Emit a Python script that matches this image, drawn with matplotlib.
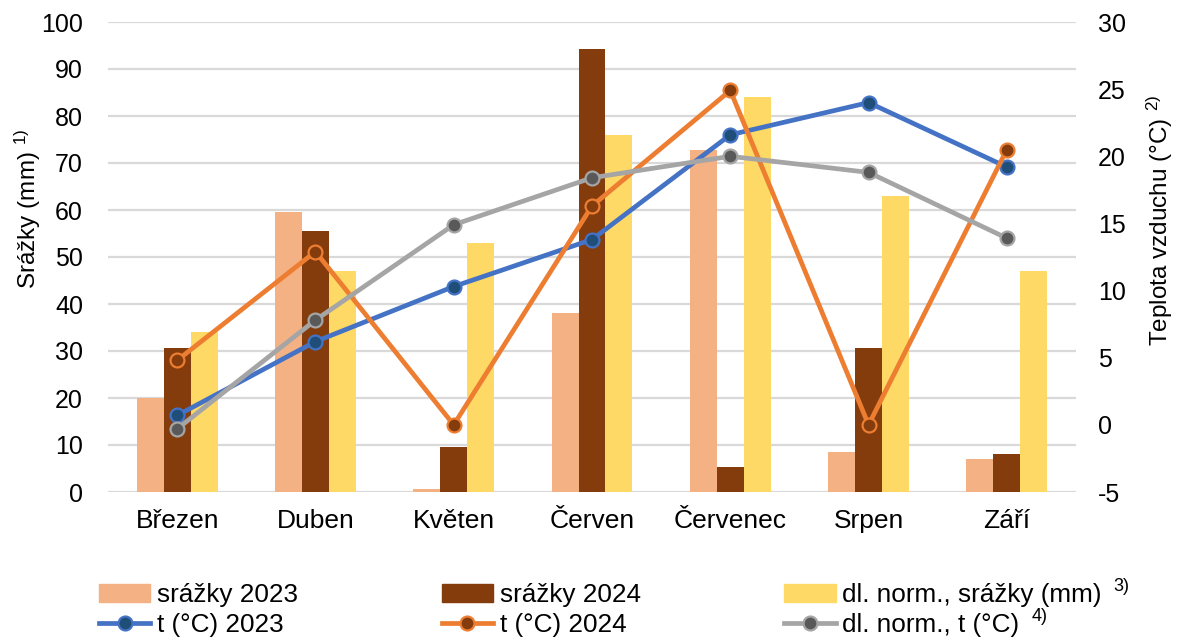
import matplotlib
matplotlib.use("Agg")
import matplotlib.pyplot as plt
import numpy as np
from matplotlib.patches import Patch
from matplotlib.lines import Line2D

plt.rcParams['font.family'] = ['Liberation Sans', 'DejaVu Sans']
plt.rcParams['mathtext.fontset'] = 'custom'
plt.rcParams['mathtext.rm'] = 'Liberation Sans'
plt.rcParams['mathtext.it'] = 'Liberation Sans'
plt.rcParams['axes.unicode_minus'] = False

months = ["Březen", "Duben", "Květen", "Červen", "Červenec", "Srpen", "Září"]
srazky_2023 = [19.9, 59.5, 0.6, 38.0, 72.8, 8.6, 7.1]
srazky_2024 = [30.7, 55.5, 9.6, 94.3, 5.4, 30.6, 8.1]
srazky_norm = [34.0, 47.0, 52.9, 76.0, 84.0, 63.0, 47.0]
t_2023 = [0.7, 6.2, 10.3, 13.8, 21.6, 24.0, 19.2]
t_2024 = [4.8, 12.9, 0.0, 16.3, 24.9, 0.0, 20.5]
t_norm = [-0.3, 7.8, 14.9, 18.4, 20.0, 18.8, 13.9]

left_ticks = list(range(0, 101, 10))
right_ticks = list(range(-5, 31, 5))

c23 = '#f4b183'
c24 = '#843c0c'
cn = '#ffd966'
lc23 = '#4472c4'
lc24 = '#ed7d31'
lcn = '#a5a5a5'

fs_y = 18
fs_x = 19
fs_lab = 17.5
fs_leg = 18.8
fs_sup = 13

W, H = 1177, 638
fig = plt.figure(figsize=(W/100, H/100), dpi=100)
ax = fig.add_axes([108/W, 1-492/H, (1076-108)/W, (492-22)/H])
ax2 = ax.twinx()

x = np.arange(len(months))
w = 0.195
ax.bar(x - w, srazky_2023, w, color=c23, zorder=2)
ax.bar(x, srazky_2024, w, color=c24, zorder=2)
ax.bar(x + w, srazky_norm, w, color=cn, zorder=2)

ax.set_ylim(0, 100)
ax.set_yticks(left_ticks)
ax.set_xlim(-0.5, len(months) - 0.5)
ax.set_xticks(x)
ax.set_xticklabels(months, fontsize=fs_x)
ax.yaxis.grid(True, color='#d9d9d9', linewidth=1.6, zorder=0)
ax.set_axisbelow(True)
ax.tick_params(axis='both', length=0)
ax.tick_params(axis='y', labelsize=fs_y, pad=18)
ax.tick_params(axis='x', labelsize=fs_x, pad=12)
for s in ax.spines.values():
    s.set_visible(False)
for s in ax2.spines.values():
    s.set_visible(False)

lw = 3.4
ms = 10
mew = 1.6
ax2.plot(x, t_2023, color=lc23, lw=lw, marker='o', ms=ms, mfc='#1f4e79', mec=lc23, mew=mew, zorder=3)
ax2.plot(x, t_2024, color=lc24, lw=lw, marker='o', ms=ms, mfc=c24, mec=lc24, mew=mew, zorder=3)
ax2.plot(x, t_norm, color=lcn, lw=lw, marker='o', ms=ms, mfc='#595959', mec=lcn, mew=mew, zorder=3)
ax2.set_ylim(-5, 30)
ax2.set_yticks(right_ticks)
ax2.tick_params(axis='y', length=0, labelsize=fs_y, pad=16)

fig.text(28/W, 1-209/H, r"Srážky (mm) $^{\mathrm{1)}}$", fontsize=fs_lab,
         rotation=90, ha='center', va='center')
fig.text(1160/W, 1-220/H, r"Teplota vzduchu (°C) $^{\mathrm{2)}}$", fontsize=fs_lab,
         rotation=90, ha='center', va='center')

handles = [
    Patch(color=c23),
    Line2D([], [], color=lc23, lw=lw, marker='o', ms=ms, mfc='#1f4e79', mec=lc23, mew=mew),
    Patch(color=c24),
    Line2D([], [], color=lc24, lw=lw, marker='o', ms=ms, mfc=c24, mec=lc24, mew=mew),
    Patch(color=cn),
    Line2D([], [], color=lcn, lw=lw, marker='o', ms=ms, mfc='#595959', mec=lcn, mew=mew),
]
labels = ["srážky 2023", "t (°C) 2023", "srážky 2024", "t (°C) 2024",
          "dl. norm., srážky (mm)", "dl. norm., t (°C)"]
sups = {4: "3)", 5: "4)"}
leg = fig.legend(handles, labels, ncol=3, loc='upper left',
                 bbox_to_anchor=(99/W, 1-583/H), frameon=False, fontsize=fs_leg,
                 handlelength=1.97, handleheight=0.65, handletextpad=0.25,
                 columnspacing=5.5, labelspacing=0.22, borderaxespad=0.0, borderpad=0.0)

fig.canvas.draw()
renderer = fig.canvas.get_renderer()
texts = leg.get_texts()
for i, s in sups.items():
    bb = texts[i].get_window_extent(renderer)
    fig.text((bb.x1 + 12) / W, (bb.y1 + 5) / H, s, fontsize=fs_sup, ha='left', va='top')

fig.savefig("out.png", dpi=100)
